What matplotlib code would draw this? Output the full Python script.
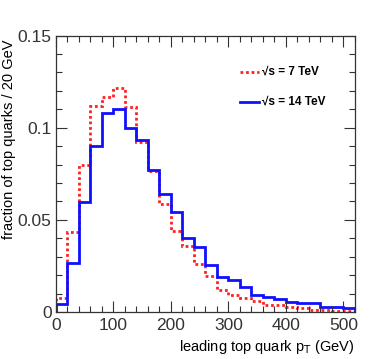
import numpy as np
import matplotlib
matplotlib.use("Agg")
import matplotlib.pyplot as plt
from matplotlib.ticker import MultipleLocator

plt.rcParams['font.family'] = ['Liberation Sans', 'DejaVu Sans']

bin_edges = list(range(0, 540, 20))
frac_7tev = [0.0076, 0.0434, 0.0799, 0.112, 0.1164, 0.1215, 0.111, 0.0925, 0.0766,
             0.0584, 0.0441, 0.036, 0.026, 0.0195, 0.0117, 0.0094, 0.0074, 0.006,
             0.004, 0.004, 0.0029, 0.0023, 0.0011, 0.0013, 0.0005, 0.0005]
frac_14tev = [0.0042, 0.0264, 0.0598, 0.0902, 0.108, 0.110, 0.0999, 0.0931, 0.077,
              0.0642, 0.0544, 0.0401, 0.0351, 0.0257, 0.019, 0.0172, 0.0134, 0.0092,
              0.0083, 0.0070, 0.0054, 0.0049, 0.0047, 0.0027, 0.0029, 0.0020]
labels = ["\u221as = 7 TeV", "\u221as = 14 TeV"]

fig = plt.figure(figsize=(3.74, 3.59), dpi=100)
ax = fig.add_axes([0.149, 0.131, 0.800, 0.770])

ax.stairs(frac_7tev, bin_edges, color='#ff2020', lw=2.0, linestyle=(0, (1, 1)))
ax.stairs(frac_14tev, bin_edges, color='#1010ff', lw=2.0)

ax.set_xlim(0, 520)
ax.set_ylim(0, 0.15)
ax.xaxis.set_major_locator(MultipleLocator(100))
ax.xaxis.set_minor_locator(MultipleLocator(20))
ax.yaxis.set_minor_locator(MultipleLocator(0.01))
ax.set_yticks([0, 0.05, 0.1, 0.15])
ax.set_yticklabels(['0', '0.05', '0.1', '0.15'])
ax.tick_params(which='both', direction='in', top=True, right=True, labelsize=12.5, colors='#333333')
ax.tick_params(which='major', length=8, width=0.8)
ax.tick_params(which='minor', length=4, width=0.8)
ax.tick_params(axis='x', pad=4)
ax.tick_params(axis='y', pad=3)
for s in ax.spines.values():
    s.set_linewidth(0.9)
    s.set_color('#333333')

ax.set_xlabel(r"leading top quark p$_\mathrm{T}$ (GeV)", fontsize=10.5, ha='right', x=1.0, labelpad=4)
ax.set_ylabel("fraction of top quarks / 20 GeV", fontsize=10.5, ha='right', y=0.985, labelpad=1)

# legend
for i, (lab, col, ls) in enumerate(zip(labels, ['#ff2020', '#1010ff'], [(0, (1, 1)), '-'])):
    yy = 0.868 - i * 0.108
    ax.plot([0.615, 0.68], [yy, yy], transform=ax.transAxes, color=col, lw=2.0, linestyle=ls)
    ax.text(0.69, yy, lab, transform=ax.transAxes, fontsize=8.5, fontweight='bold', va='center', ha='left')

fig.savefig("out.png", dpi=100)
